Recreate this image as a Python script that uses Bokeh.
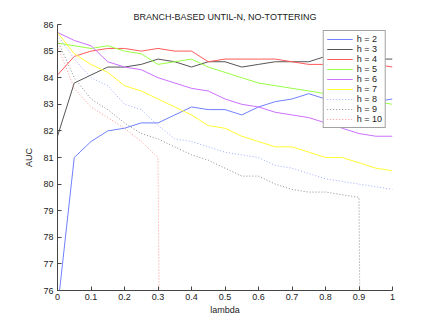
from bokeh.plotting import figure
from bokeh.models import Range1d, FixedTicker, Legend, LegendItem, Title
from bokeh.embed import file_html
from bokeh.resources import INLINE

lam = [0.0, 0.05, 0.1, 0.15, 0.2, 0.25, 0.3, 0.35, 0.4, 0.45, 0.5,
       0.55, 0.6, 0.65, 0.7, 0.75, 0.8, 0.85, 0.9, 0.95, 1.0]

h2 = [75.3, 81.0, 81.6, 82.0, 82.1, 82.3, 82.3, 82.6, 82.9, 82.8, 82.8,
      82.6, 82.9, 83.1, 83.2, 83.4, 83.2, 83.1, 83.1, 83.1, 83.2]
h3 = [81.8, 83.8, 84.1, 84.4, 84.4, 84.5, 84.7, 84.6, 84.4, 84.6, 84.6,
      84.4, 84.5, 84.6, 84.6, 84.6, 84.8, 84.8, 84.8, 84.7, 84.7]
h4 = [84.1, 84.8, 85.0, 85.1, 85.1, 85.0, 85.1, 85.0, 85.0, 84.6, 84.7,
      84.7, 84.7, 84.7, 84.6, 84.5, 84.5, 84.5, 84.5, 84.5, 84.4]
h5 = [85.3, 85.2, 85.1, 85.2, 85.0, 84.9, 84.5, 84.6, 84.7, 84.4, 84.2,
      84.0, 83.8, 83.7, 83.6, 83.5, 83.4, 83.3, 83.2, 83.1, 83.0]
h6 = [85.7, 85.4, 85.2, 84.6, 84.4, 84.3, 84.0, 83.8, 83.6, 83.5, 83.2,
      83.0, 82.9, 82.7, 82.6, 82.5, 82.3, 82.1, 81.9, 81.8, 81.8]
h7 = [85.7, 84.9, 84.5, 84.2, 83.7, 83.5, 83.2, 82.9, 82.6, 82.2, 82.1,
      81.8, 81.6, 81.4, 81.4, 81.2, 81.0, 81.0, 80.8, 80.6, 80.5]
h8 = [85.6, 84.7, 84.0, 83.7, 83.0, 82.8, 82.2, 81.7, 81.6, 81.4, 81.2,
      81.1, 81.0, 80.7, 80.6, 80.4, 80.2, 80.1, 80.0, 79.9, 79.8]
h9 = [85.4, 84.0, 83.2, 82.8, 82.3, 81.9, 81.7, 81.4, 81.1, 80.9, 80.6,
      80.3, 80.3, 80.0, 79.8, 79.7, 79.7, 79.6, 79.5, 0.0, 0.0]
h10 = [85.2, 83.6, 82.9, 82.5, 82.1, 81.6, 81.0, 0.0, 0.0, 0.0, 0.0,
       0.0, 0.0, 0.0, 0.0, 0.0, 0.0, 0.0, 0.0, 0.0, 0.0]

labels = ["h = 2", "h = 3", "h = 4", "h = 5", "h = 6", "h = 7", "h = 8", "h = 9", "h = 10"]
series = [h2, h3, h4, h5, h6, h7, h8, h9, h10]
colors = ["#7080ff", "#555555", "#ff5a5a", "#99ff44", "#cc70ff", "#ffff33",
          "#8090ff", "#666666", "#ff7070"]
dashes = ["solid"] * 6 + ["1 2"] * 3
alphas = [1.0] * 6 + [0.75] * 3

x_ticks = [0, 0.1, 0.2, 0.3, 0.4, 0.5, 0.6, 0.7, 0.8, 0.9, 1]
y_ticks = [76, 77, 78, 79, 80, 81, 82, 83, 84, 85, 86]

FONT = "Liberation Sans"

p = figure(width=426, height=318, output_backend="svg", toolbar_location=None,
           x_range=Range1d(0, 1), y_range=Range1d(76, 86),
           min_border_left=57, min_border_right=34, min_border_top=24, min_border_bottom=28)
p.title = None
p.add_layout(Title(text="BRANCH-BASED UNTIL-N, NO-TOTTERING", align="center",
                   text_font=FONT, text_font_size="9px", text_font_style="normal",
                   text_color="#222222", standoff=5), "above")

p.grid.visible = False
p.outline_line_color = None
p.background_fill_color = "white"
p.border_fill_color = "white"

for ax in (p.xaxis[0], p.yaxis[0]):
    ax.major_tick_in = 4
    ax.major_tick_out = 0
    ax.minor_tick_line_color = None
    ax.axis_line_color = "#444444"
    ax.major_tick_line_color = "#444444"
    ax.major_label_text_font = FONT
    ax.major_label_text_font_size = "9px"
    ax.major_label_text_color = "#222222"
    ax.axis_label_text_font = FONT
    ax.axis_label_text_font_size = "9px"
    ax.axis_label_text_font_style = "normal"
    ax.axis_label_text_color = "#222222"

p.xaxis.ticker = FixedTicker(ticks=x_ticks)
p.yaxis.ticker = FixedTicker(ticks=y_ticks)
p.xaxis.major_label_overrides = {0: "0", 1: "1"}
p.xaxis.axis_label = "lambda"
p.yaxis.axis_label = "AUC"
p.xaxis.axis_label_standoff = 2
p.yaxis.axis_label_standoff = 6
p.xaxis.major_label_standoff = 3
p.yaxis.major_label_standoff = 4

items = []
for lab, ys, c, d, a in zip(labels, series, colors, dashes, alphas):
    r = p.line(lam, ys, line_color=c, line_width=1, line_dash=d, line_alpha=a)
    items.append(LegendItem(label=lab, renderers=[r]))

legend = Legend(items=items, location="top_right",
                label_text_font=FONT, label_text_font_size="9px", label_text_color="#222222",
                border_line_color="#444444", border_line_width=1.2,
                background_fill_color="white", background_fill_alpha=1,
                glyph_width=26, glyph_height=8, label_height=8,
                spacing=0, padding=3, margin=6, label_standoff=4)
p.add_layout(legend)

open("out.html", "w").write(file_html(p, INLINE))
